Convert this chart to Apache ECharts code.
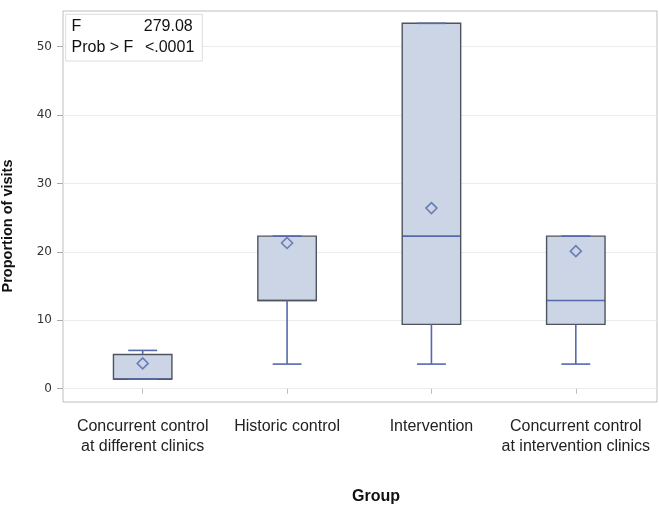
<!DOCTYPE html>
<html>
<head>
<meta charset="utf-8">
<script src="https://cdn.jsdelivr.net/npm/echarts@6/dist/echarts.min.js"></script>
<style>html,body{margin:0;padding:0;background:#fff;}#c{width:659px;height:505px;}</style>
</head>
<body>
<div id="c"></div>
<script>
const categories = ['Concurrent control\nat different clinics', 'Historic control', 'Intervention', 'Concurrent control\nat intervention clinics'];
const minVals    = [1.4, 3.6, 3.6, 3.6];
const q1Vals     = [1.4, 12.9, 9.4, 9.4];
const medianVals = [1.4, 12.9, 22.3, 12.9];
const q3Vals     = [5.0, 22.3, 53.4, 22.3];
const maxVals    = [5.6, 22.3, 53.4, 22.3];
const meanVals   = [3.7, 21.3, 26.4, 20.1];
const yTicks     = [0, 10, 20, 30, 40, 50];

const Y_MIN = -1.94, Y_MAX = 55.2;
const BLUE = '#5468ad', EDGE = '#4f535e', FILL = '#cbd5e5';

const boxData = categories.map((c, i) => [i, minVals[i], q1Vals[i], medianVals[i], q3Vals[i], maxVals[i]]);
const meanData = categories.map((c, i) => [i, meanVals[i]]);

const chart = echarts.init(document.getElementById('c'));
chart.setOption({
  animation: false,
  backgroundColor: '#fff',
  grid: [
    {left: 63, top: 11, width: 594, height: 391, show: true, borderColor: '#bdbdbd', borderWidth: 1, backgroundColor: 'transparent', containLabel: false},
    {left: 70.5, top: 11, width: 577.5, height: 391, containLabel: false}
  ],
  xAxis: [
    {gridIndex: 0, type: 'value', min: 0, max: 1, show: false},
    {gridIndex: 1, type: 'category', data: categories, boundaryGap: true,
     axisLine: {show: false},
     axisTick: {show: true, alignWithLabel: true, length: 5, inside: false, lineStyle: {color: '#bdbdbd'}},
     axisLabel: {margin: 15, fontSize: 16, lineHeight: 20, color: '#222', fontFamily: 'Liberation Sans, Arial, sans-serif', interval: 0},
     splitLine: {show: false}}
  ],
  yAxis: [
    {gridIndex: 0, type: 'value', min: Y_MIN, max: Y_MAX,
     axisLine: {show: false},
     axisTick: {show: true, length: 6, customValues: yTicks, lineStyle: {color: '#a8a8a8'}},
     axisLabel: {margin: 11, fontSize: 12, color: '#333', fontFamily: 'DejaVu Sans, sans-serif', customValues: yTicks},
     splitLine: {show: true, lineStyle: {color: '#ececec', width: 1}}},
    {gridIndex: 1, type: 'value', min: Y_MIN, max: Y_MAX, show: false, splitLine: {show: false}}
  ],
  series: [
    {
      type: 'custom', xAxisIndex: 1, yAxisIndex: 1,
      data: boxData,
      encode: {x: 0, y: [1, 2, 3, 4, 5]},
      renderItem: function (params, api) {
        const x = api.value(0);
        const vMin = api.value(1), vQ1 = api.value(2), vMed = api.value(3), vQ3 = api.value(4), vMax = api.value(5);
        const band = api.size([1, 0])[0];
        const bw = band * 0.405, cw = band * 0.2;
        const cx = api.coord([x, vQ1])[0];
        const yMin = api.coord([x, vMin])[1], yQ1 = api.coord([x, vQ1])[1], yMed = api.coord([x, vMed])[1];
        const yQ3 = api.coord([x, vQ3])[1], yMax = api.coord([x, vMax])[1];
        const ls = {stroke: BLUE, lineWidth: 1.6, fill: null};
        const children = [
          {type: 'rect', shape: {x: cx - bw / 2, y: yQ3, width: bw, height: yQ1 - yQ3}, style: {fill: FILL, stroke: null}},
          {type: 'line', shape: {x1: cx - bw / 2, y1: yMed, x2: cx + bw / 2, y2: yMed}, style: ls},
          {type: 'rect', shape: {x: cx - bw / 2, y: yQ3, width: bw, height: yQ1 - yQ3}, style: {fill: null, stroke: EDGE, lineWidth: 1.4}},
          {type: 'line', shape: {x1: cx, y1: yQ1, x2: cx, y2: yMin}, style: ls},
          {type: 'line', shape: {x1: cx, y1: yQ3, x2: cx, y2: yMax}, style: ls},
          {type: 'line', shape: {x1: cx - cw / 2, y1: yMin, x2: cx + cw / 2, y2: yMin}, style: ls},
          {type: 'line', shape: {x1: cx - cw / 2, y1: yMax, x2: cx + cw / 2, y2: yMax}, style: ls}
        ];
        return {type: 'group', children: children};
      },
      z: 2
    },
    {
      type: 'scatter', xAxisIndex: 1, yAxisIndex: 1,
      data: meanData,
      symbol: 'diamond', symbolSize: [11, 11],
      itemStyle: {color: 'rgba(0,0,0,0)', borderColor: BLUE, borderWidth: 1.6},
      z: 3
    }
  ],
  graphic: [
    {type: 'text', left: null, x: 8, y: 226, rotation: Math.PI / 2,
     style: {text: 'Proportion of visits', font: 'bold 14.5px Liberation Sans, Arial, sans-serif', fill: '#111', align: 'center', verticalAlign: 'middle'}},
    {type: 'text', x: 376, y: 497,
     style: {text: 'Group', font: 'bold 16px Liberation Sans, Arial, sans-serif', fill: '#111', align: 'center', verticalAlign: 'middle'}},
    {type: 'rect', shape: {x: 65.7, y: 14.3, width: 136.6, height: 46.7}, style: {fill: '#fff', stroke: '#dcdcdc', lineWidth: 1}, z: 10},
    {type: 'text', x: 71.5, y: 26.7, z: 11, style: {text: 'F', font: '16px Liberation Sans, Arial, sans-serif', fill: '#111', align: 'left', verticalAlign: 'middle'}},
    {type: 'text', x: 192.7, y: 26.7, z: 11, style: {text: '279.08', font: '16px Liberation Sans, Arial, sans-serif', fill: '#111', align: 'right', verticalAlign: 'middle'}},
    {type: 'text', x: 71.5, y: 47.3, z: 11, style: {text: 'Prob > F', font: '16px Liberation Sans, Arial, sans-serif', fill: '#111', align: 'left', verticalAlign: 'middle'}},
    {type: 'text', x: 194.3, y: 47.3, z: 11, style: {text: '<.0001', font: '16px Liberation Sans, Arial, sans-serif', fill: '#111', align: 'right', verticalAlign: 'middle'}}
  ]
});
</script>
</body>
</html>
